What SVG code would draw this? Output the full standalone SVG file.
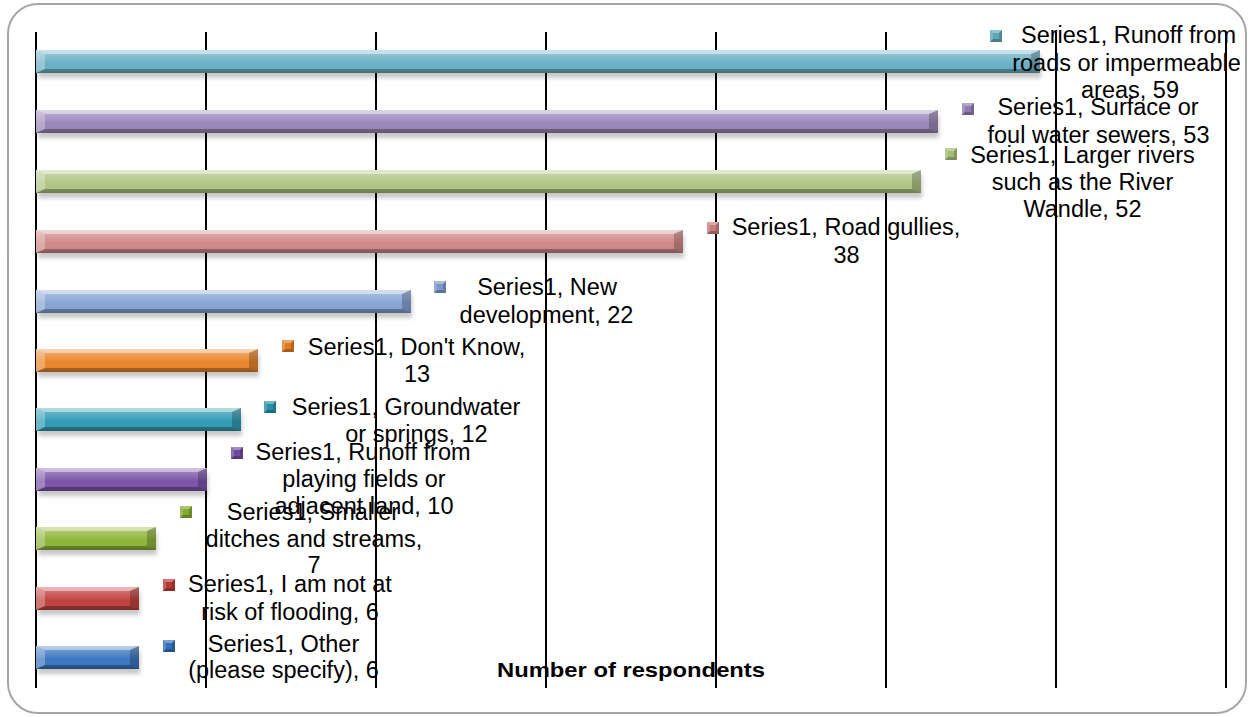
<svg xmlns="http://www.w3.org/2000/svg" width="1252" height="717" viewBox="0 0 1252 717">
  <defs>
    <style>
      .lbl { font-family: "Liberation Sans", Arial, sans-serif; font-size: 23.5px; fill: #000; text-anchor: middle; }
      .ttl { font-family: "Liberation Sans", Arial, sans-serif; font-size: 21px; font-weight: bold; fill: #000; text-anchor: middle; }
      .grid { stroke: #000; stroke-width: 2; }
      .frame { fill: #fff; stroke: #a6a6a6; stroke-width: 2; }
      .shine { fill: url(#shine); }
      .hi { fill: #fff; fill-opacity: 0.45; }
      .lo { fill: #000; fill-opacity: 0.28; }
      .lside { fill: #fff; fill-opacity: 0.28; }
      .rside { fill: #000; fill-opacity: 0.22; }
      .shadow { fill: #000; fill-opacity: 0.22; filter: url(#soft); }
    </style>
    <linearGradient id="shine" x1="0" y1="0" x2="0" y2="1">
      <stop offset="0" stop-color="#fff" stop-opacity="0.35"/>
      <stop offset="0.35" stop-color="#fff" stop-opacity="0.15"/>
      <stop offset="0.6" stop-color="#fff" stop-opacity="0"/>
      <stop offset="1" stop-color="#000" stop-opacity="0.12"/>
    </linearGradient>
    <filter id="soft" x="-5%" y="-50%" width="110%" height="200%">
      <feGaussianBlur stdDeviation="2"/>
    </filter>
    <!-- bevelled legend key, drawn over a coloured 12 x 12 square -->
    <symbol id="key" viewBox="0 0 12 12" preserveAspectRatio="none">
      <polygon points="0,0 12,0 9,3 3,3" fill="#fff" fill-opacity="0.35"/>
      <polygon points="0,12 12,12 9,9 3,9" fill="#000" fill-opacity="0.25"/>
      <polygon points="0,0 3,3 3,9 0,12" fill="#fff" fill-opacity="0.2"/>
      <polygon points="12,0 9,3 9,9 12,12" fill="#000" fill-opacity="0.18"/>
    </symbol>
  </defs>

  <!-- chart frame -->
  <rect class="frame" x="8" y="4" width="1238" height="709" rx="30" ry="30"/>

  <!-- vertical gridlines every 10 respondents -->
  <g id="gridlines">
    <line class="grid" x1="36" y1="32" x2="36" y2="688"/>
    <line class="grid" x1="206" y1="32" x2="206" y2="688"/>
    <line class="grid" x1="376" y1="32" x2="376" y2="688"/>
    <line class="grid" x1="546" y1="32" x2="546" y2="688"/>
    <line class="grid" x1="716" y1="32" x2="716" y2="688"/>
    <line class="grid" x1="886" y1="32" x2="886" y2="688"/>
    <line class="grid" x1="1056" y1="32" x2="1056" y2="688"/>
    <line class="grid" x1="1226" y1="32" x2="1226" y2="688"/>
  </g>

  <!-- bars: x = 36 + 17 * value -->
  <g id="bars">
    <g id="bar-runoff-roads">
      <rect class="shadow" x="38" y="55" width="1003" height="23"/>
      <rect x="36" y="50" width="1004" height="23" fill="#6bb0c4"/>
      <rect x="36" y="50" width="1004" height="23" class="shine"/>
      <polygon points="36,50 1040,50 1031,54 45,54" class="hi"/>
      <polygon points="36,73 1040,73 1031,69 45,69" class="lo"/>
      <polygon points="36,50 45,54 45,69 36,73" class="lside"/>
      <polygon points="1040,50 1031,54 1031,69 1040,73" class="rside"/>
    </g>
    <g id="bar-sewers">
      <rect class="shadow" x="38" y="115" width="901" height="23"/>
      <rect x="36" y="110" width="902" height="23" fill="#9a86b8"/>
      <rect x="36" y="110" width="902" height="23" class="shine"/>
      <polygon points="36,110 938,110 929,114 45,114" class="hi"/>
      <polygon points="36,133 938,133 929,129 45,129" class="lo"/>
      <polygon points="36,110 45,114 45,129 36,133" class="lside"/>
      <polygon points="938,110 929,114 929,129 938,133" class="rside"/>
    </g>
    <g id="bar-larger-rivers">
      <rect class="shadow" x="38" y="175" width="884" height="23"/>
      <rect x="36" y="170" width="885" height="23" fill="#b0c684"/>
      <rect x="36" y="170" width="885" height="23" class="shine"/>
      <polygon points="36,170 921,170 912,174 45,174" class="hi"/>
      <polygon points="36,193 921,193 912,189 45,189" class="lo"/>
      <polygon points="36,170 45,174 45,189 36,193" class="lside"/>
      <polygon points="921,170 912,174 912,189 921,193" class="rside"/>
    </g>
    <g id="bar-road-gullies">
      <rect class="shadow" x="38" y="235" width="646" height="23"/>
      <rect x="36" y="230" width="647" height="23" fill="#d08886"/>
      <rect x="36" y="230" width="647" height="23" class="shine"/>
      <polygon points="36,230 683,230 674,234 45,234" class="hi"/>
      <polygon points="36,253 683,253 674,249 45,249" class="lo"/>
      <polygon points="36,230 45,234 45,249 36,253" class="lside"/>
      <polygon points="683,230 674,234 674,249 683,253" class="rside"/>
    </g>
    <g id="bar-new-development">
      <rect class="shadow" x="38" y="295" width="374" height="23"/>
      <rect x="36" y="290" width="375" height="23" fill="#86a4d4"/>
      <rect x="36" y="290" width="375" height="23" class="shine"/>
      <polygon points="36,290 411,290 402,294 45,294" class="hi"/>
      <polygon points="36,313 411,313 402,309 45,309" class="lo"/>
      <polygon points="36,290 45,294 45,309 36,313" class="lside"/>
      <polygon points="411,290 402,294 402,309 411,313" class="rside"/>
    </g>
    <g id="bar-dont-know">
      <rect class="shadow" x="38" y="354" width="221" height="23"/>
      <rect x="36" y="349" width="222" height="23" fill="#ea852a"/>
      <rect x="36" y="349" width="222" height="23" class="shine"/>
      <polygon points="36,349 258,349 249,353 45,353" class="hi"/>
      <polygon points="36,372 258,372 249,368 45,368" class="lo"/>
      <polygon points="36,349 45,353 45,368 36,372" class="lside"/>
      <polygon points="258,349 249,353 249,368 258,372" class="rside"/>
    </g>
    <g id="bar-groundwater">
      <rect class="shadow" x="38" y="413" width="204" height="23"/>
      <rect x="36" y="408" width="205" height="23" fill="#2f9bb4"/>
      <rect x="36" y="408" width="205" height="23" class="shine"/>
      <polygon points="36,408 241,408 232,412 45,412" class="hi"/>
      <polygon points="36,431 241,431 232,427 45,427" class="lo"/>
      <polygon points="36,408 45,412 45,427 36,431" class="lside"/>
      <polygon points="241,408 232,412 232,427 241,431" class="rside"/>
    </g>
    <g id="bar-playing-fields">
      <rect class="shadow" x="38" y="473" width="170" height="23"/>
      <rect x="36" y="468" width="171" height="23" fill="#7a53a8"/>
      <rect x="36" y="468" width="171" height="23" class="shine"/>
      <polygon points="36,468 207,468 198,472 45,472" class="hi"/>
      <polygon points="36,491 207,491 198,487 45,487" class="lo"/>
      <polygon points="36,468 45,472 45,487 36,491" class="lside"/>
      <polygon points="207,468 198,472 198,487 207,491" class="rside"/>
    </g>
    <g id="bar-smaller-ditches">
      <rect class="shadow" x="38" y="532" width="119" height="23"/>
      <rect x="36" y="527" width="120" height="23" fill="#8fb53a"/>
      <rect x="36" y="527" width="120" height="23" class="shine"/>
      <polygon points="36,527 156,527 147,531 45,531" class="hi"/>
      <polygon points="36,550 156,550 147,546 45,546" class="lo"/>
      <polygon points="36,527 45,531 45,546 36,550" class="lside"/>
      <polygon points="156,527 147,531 147,546 156,550" class="rside"/>
    </g>
    <g id="bar-not-at-risk">
      <rect class="shadow" x="38" y="592" width="102" height="23"/>
      <rect x="36" y="587" width="103" height="23" fill="#c0403d"/>
      <rect x="36" y="587" width="103" height="23" class="shine"/>
      <polygon points="36,587 139,587 130,591 45,591" class="hi"/>
      <polygon points="36,610 139,610 130,606 45,606" class="lo"/>
      <polygon points="36,587 45,591 45,606 36,610" class="lside"/>
      <polygon points="139,587 130,591 130,606 139,610" class="rside"/>
    </g>
    <g id="bar-other">
      <rect class="shadow" x="38" y="651" width="102" height="23"/>
      <rect x="36" y="646" width="103" height="23" fill="#3a76c0"/>
      <rect x="36" y="646" width="103" height="23" class="shine"/>
      <polygon points="36,646 139,646 130,650 45,650" class="hi"/>
      <polygon points="36,669 139,669 130,665 45,665" class="lo"/>
      <polygon points="36,646 45,650 45,665 36,669" class="lside"/>
      <polygon points="139,646 130,650 130,665 139,669" class="rside"/>
    </g>
  </g>

  <!-- data labels -->
  <g id="labels">
    <g id="label-runoff-roads">
      <rect x="990" y="30" width="12" height="12" fill="#5fa6bb"/><use href="#key" x="990" y="30" width="12" height="12"/>
      <text class="lbl" x="1128.5" y="43">Series1, Runoff from</text>
      <text class="lbl" x="1126.5" y="70.5">roads or impermeable</text>
      <text class="lbl" x="1130" y="98">areas, 59</text>
    </g>
    <g id="label-sewers">
      <rect x="962" y="103" width="12" height="12" fill="#8f7aad"/><use href="#key" x="962" y="103" width="12" height="12"/>
      <text class="lbl" x="1098" y="115">Series1, Surface or</text>
      <text class="lbl" x="1098.5" y="143">foul water sewers, 53</text>
    </g>
    <g id="label-larger-rivers">
      <rect x="945" y="148" width="12" height="12" fill="#a3bb74"/><use href="#key" x="945" y="148" width="12" height="12"/>
      <text class="lbl" x="1082.5" y="163">Series1, Larger rivers</text>
      <text class="lbl" x="1082.5" y="190">such as the River</text>
      <text class="lbl" x="1082.5" y="217">Wandle, 52</text>
    </g>
    <g id="label-road-gullies">
      <rect x="707" y="222" width="12" height="12" fill="#c87b79"/><use href="#key" x="707" y="222" width="12" height="12"/>
      <text class="lbl" x="846" y="235">Series1, Road gullies,</text>
      <text class="lbl" x="846.5" y="263">38</text>
    </g>
    <g id="label-new-development">
      <rect x="434" y="281" width="12" height="12" fill="#7a98c9"/><use href="#key" x="434" y="281" width="12" height="12"/>
      <text class="lbl" x="547" y="295">Series1, New</text>
      <text class="lbl" x="546.5" y="323">development, 22</text>
    </g>
    <g id="label-dont-know">
      <rect x="282" y="340" width="12" height="12" fill="#e07b22"/><use href="#key" x="282" y="340" width="12" height="12"/>
      <text class="lbl" x="416.5" y="355">Series1, Don't Know,</text>
      <text class="lbl" x="417" y="382">13</text>
    </g>
    <g id="label-groundwater">
      <rect x="264" y="401" width="12" height="12" fill="#2a8fa8"/><use href="#key" x="264" y="401" width="12" height="12"/>
      <text class="lbl" x="406" y="415">Series1, Groundwater</text>
      <text class="lbl" x="416.5" y="442">or springs, 12</text>
    </g>
    <g id="label-playing-fields">
      <rect x="231" y="447" width="12" height="12" fill="#704a9e"/><use href="#key" x="231" y="447" width="12" height="12"/>
      <text class="lbl" x="363" y="460">Series1, Runoff from</text>
      <text class="lbl" x="364" y="487">playing fields or</text>
      <text class="lbl" x="364" y="514">adjacent land, 10</text>
    </g>
    <g id="label-smaller-ditches">
      <rect x="180" y="506" width="12" height="12" fill="#84aa33"/><use href="#key" x="180" y="506" width="12" height="12"/>
      <text class="lbl" x="313" y="520">Series1, Smaller</text>
      <text class="lbl" x="314" y="547">ditches and streams,</text>
      <text class="lbl" x="314" y="573">7</text>
    </g>
    <g id="label-not-at-risk">
      <rect x="163" y="579" width="12" height="12" fill="#b83835"/><use href="#key" x="163" y="579" width="12" height="12"/>
      <text class="lbl" x="290" y="592">Series1, I am not at</text>
      <text class="lbl" x="290" y="620">risk of flooding, 6</text>
    </g>
    <g id="label-other">
      <rect x="163" y="640" width="12" height="12" fill="#336eb8"/><use href="#key" x="163" y="640" width="12" height="12"/>
      <text class="lbl" x="283.5" y="652">Series1, Other</text>
      <text class="lbl" x="283.5" y="678">(please specify), 6</text>
    </g>
  </g>

  <!-- axis title -->
  <text class="ttl" x="631" y="677" textLength="268" lengthAdjust="spacingAndGlyphs">Number of respondents</text>
</svg>
